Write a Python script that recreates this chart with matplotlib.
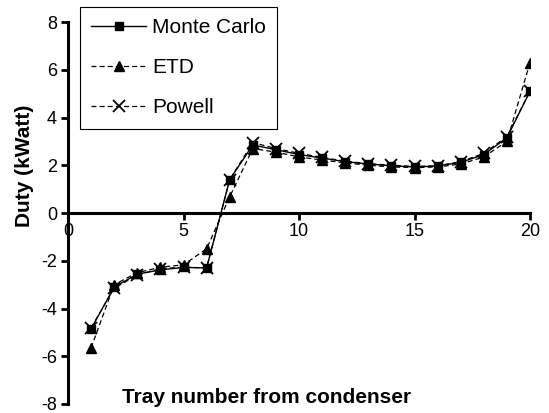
import numpy as np
import matplotlib.pyplot as plt

plt.rcParams['font.family'] = ['Liberation Sans', 'DejaVu Sans']
plt.rcParams['axes.unicode_minus'] = False

# duty profile along the column, tray 1 = condenser side
trays = np.arange(1, 21)
monte_carlo = [-4.85, -3.1, -2.56, -2.38, -2.28, -2.3, 1.4, 2.85, 2.65, 2.45,
               2.3, 2.15, 2.05, 1.98, 1.93, 1.97, 2.12, 2.45, 3.15, 5.1]
etd = [-5.65, -3.0, -2.5, -2.27, -2.17, -1.5, 0.68, 2.7, 2.55, 2.35,
       2.22, 2.1, 2.0, 1.93, 1.9, 1.93, 2.05, 2.35, 3.0, 6.3]
powell = [-4.8, -3.15, -2.6, -2.33, -2.27, -2.3, 1.4, 2.95, 2.7, 2.5,
          2.33, 2.17, 2.07, 2.0, 1.95, 1.98, 2.15, 2.5, 3.2, 5.1]

fig = plt.figure(figsize=(5.49, 4.13), dpi=100)
ax = fig.add_axes([0.1239, 0.0218, 0.8415, 0.9249])

ax.plot(trays, monte_carlo, color='black', lw=1.0, ls='-', marker='s', ms=5.5,
        label='Monte Carlo')
ax.plot(trays, etd, color='black', lw=0.9, ls=(0, (4, 2.5)), marker='^', ms=7.5,
        label='ETD')
ax.plot(trays, powell, color='black', lw=0.9, ls=(0, (4, 2.5)), marker='x', ms=8,
        mew=1.3, label='Powell')

ax.set_xlim(0, 20)
ax.set_ylim(-8, 8)
ax.set_xticks([0, 5, 10, 15, 20])
ax.set_yticks(np.arange(-8, 9, 2))

ax.spines['left'].set_position(('data', 0))
ax.spines['bottom'].set_position(('data', 0))
ax.spines['top'].set_visible(False)
ax.spines['right'].set_visible(False)
for s in ['left', 'bottom']:
    ax.spines[s].set_linewidth(2.2)
ax.tick_params(axis='both', direction='out', length=5, width=2, labelsize=13)
ax.tick_params(axis='y', pad=3)
ax.tick_params(axis='x', pad=2)

ax.set_xlabel('Tray number from condenser', fontsize=15, fontweight='bold')
ax.xaxis.set_label_coords(0.43, 0.018)
ax.xaxis.label.set_va('center')
ax.set_ylabel('Duty (kWatt)', fontsize=15, fontweight='bold')
ax.yaxis.set_label_coords(-0.095, 0.623)
ax.yaxis.label.set_va('center')

leg = ax.legend(loc='upper left', bbox_to_anchor=(80 / 549, 1 - 7 / 413),
                bbox_transform=fig.transFigure, borderaxespad=0, fontsize=15,
                handlelength=2.6, handletextpad=0.3, labelspacing=1.0,
                borderpad=0.55, fancybox=False, framealpha=1, edgecolor='black')
leg.get_frame().set_linewidth(0.8)

fig.savefig('out.png', dpi=100)
